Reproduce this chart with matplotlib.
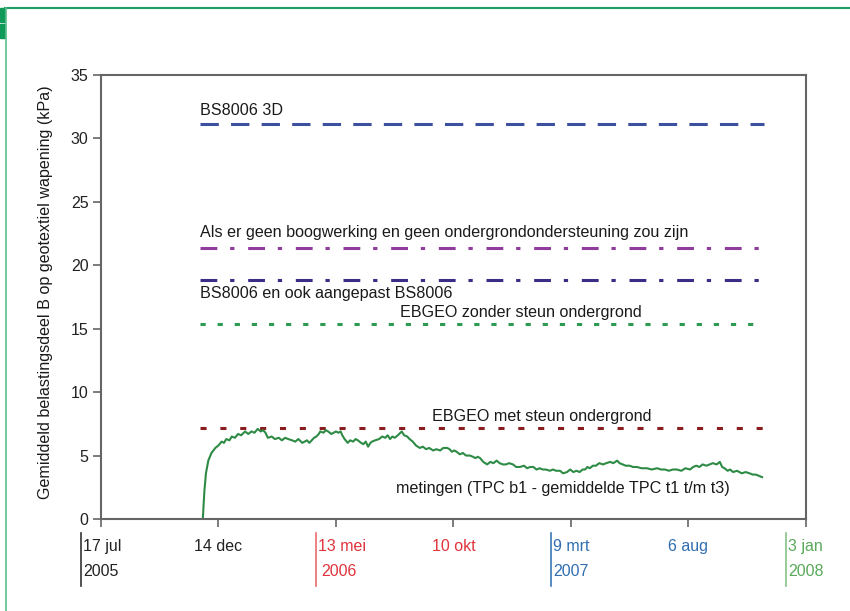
import matplotlib
matplotlib.use('Agg')
import matplotlib.pyplot as plt
from matplotlib.patches import Rectangle
from matplotlib.lines import Line2D

plt.rcParams['font.family'] = ['Liberation Sans', 'DejaVu Sans']

# days since 17 jul 2005
day = [130, 132, 134, 137, 141, 146, 150, 154, 157, 160, 164, 167, 171, 175, 179, 184,
       188, 192, 196, 200, 204, 207, 210, 213, 218, 222, 227, 231, 235, 239, 244, 248,
       252, 257, 260, 263, 266, 269, 272, 275, 278, 280, 284, 287, 290, 294, 297, 300,
       303, 306, 308, 311, 315, 318, 322, 325, 328, 332, 335, 338, 341, 344, 346, 350,
       355, 359, 363, 366, 369, 372, 375, 379, 384, 387, 391, 394, 398, 402, 407, 411,
       415, 419, 424, 428, 433, 437, 442, 445, 448, 451, 454, 458, 462, 466, 471, 475,
       478, 481, 484, 488, 493, 497, 501, 505, 509, 513, 517, 521, 526, 530, 535, 540,
       544, 548, 552, 556, 560, 564, 568, 573, 577, 581, 586, 590, 595, 599, 603, 607,
       611, 615, 618, 621, 624, 628, 632, 636, 641, 645, 650, 654, 659, 662, 666, 670,
       675, 679, 684, 690, 697, 703, 710, 715, 720, 725, 730, 735, 741, 746, 752, 756,
       760, 764, 768, 773, 777, 781, 786, 790, 793, 796, 800, 803, 807, 812, 818, 823,
       828, 832, 836, 840, 844]
kpa = [0.0, 2.2, 3.6, 4.6, 5.2, 5.6, 5.8, 6.1, 6.0, 6.3, 6.2, 6.5, 6.4, 6.7, 6.6, 6.9,
       6.7, 6.9, 6.8, 7.1, 6.9, 7.0, 6.8, 6.4, 6.5, 6.3, 6.4, 6.2, 6.4, 6.3, 6.2, 6.1,
       6.3, 6.0, 6.1, 6.2, 6.0, 6.2, 6.4, 6.5, 6.7, 6.9, 6.8, 7.0, 6.9, 6.7, 6.8, 6.9,
       6.8, 6.9, 6.6, 6.3, 6.0, 6.2, 6.1, 6.3, 6.2, 6.0, 5.9, 6.1, 5.7, 6.0, 6.1, 6.2,
       6.3, 6.5, 6.4, 6.6, 6.3, 6.5, 6.4, 6.6, 6.9, 6.6, 6.5, 6.3, 6.1, 5.8, 5.6, 5.7,
       5.5, 5.6, 5.4, 5.5, 5.4, 5.6, 5.6, 5.5, 5.3, 5.4, 5.3, 5.1, 5.2, 5.0, 5.0, 4.9,
       4.8, 4.9, 4.8, 4.5, 4.3, 4.5, 4.4, 4.6, 4.4, 4.3, 4.3, 4.4, 4.3, 4.1, 4.1, 4.2,
       4.0, 4.1, 4.1, 3.9, 4.0, 3.9, 3.9, 3.8, 3.9, 3.8, 3.8, 3.6, 3.7, 3.9, 3.7, 3.8,
       3.7, 3.9, 3.9, 4.1, 4.0, 4.2, 4.2, 4.4, 4.3, 4.4, 4.5, 4.4, 4.6, 4.4, 4.3, 4.2,
       4.2, 4.1, 4.1, 4.0, 4.0, 3.9, 4.0, 3.9, 3.9, 3.8, 3.9, 3.9, 3.8, 4.0, 3.9, 4.1,
       4.2, 4.1, 4.3, 4.2, 4.3, 4.4, 4.3, 4.5, 4.1, 4.0, 3.8, 3.9, 3.7, 3.8, 3.6, 3.7,
       3.6, 3.5, 3.5, 3.4, 3.3]

# reference levels (kPa)
ref_names = ['BS8006 3D',
             'Als er geen boogwerking en geen ondergrondondersteuning zou zijn',
             'BS8006 en ook aangepast BS8006',
             'EBGEO zonder steun ondergrond',
             'EBGEO met steun ondergrond']
ref_values = [31.1, 21.4, 18.8, 15.4, 7.2]
ref_start, ref_end = 126, 846

tick_days = [0, 150, 300, 450, 600, 750, 900]
tick_row1 = ['17 jul', '14 dec', '13 mei', '10 okt', '9 mrt', '6 aug', '3 jan']
tick_row2 = ['2005', '', '2006', '', '2007', '', '2008']

ref_styles = [
    dict(color='#3d4f9f', ls=(0, (6, 4))),
    dict(color='#8f3c9c', ls=(0, (5.5, 4.2, 1.4, 4.5))),
    dict(color='#3b2d86', ls=(0, (5.5, 4.2, 1.4, 4.5))),
    dict(color='#2e9a52', ls=(0, (1.7, 3.9))),
    dict(color='#8a1d1f', ls=(0, (2.0, 4.5))),
]
# label position (day, kPa, va)
ref_labels = [(126, 31.6, 'bottom'), (126, 22.0, 'bottom'), (126, 17.8, 'center'),
              (382, 16.3, 'center'), (422, 8.1, 'center')]

FS = 11.6

fig = plt.figure(figsize=(8.5, 6.11), dpi=100)
ax = fig.add_axes([0.1188, 0.1506, 0.8294, 0.7267])

for v, st, name, (lx, ly, va) in zip(ref_values, ref_styles, ref_names, ref_labels):
    ax.plot([ref_start, ref_end], [v, v], color=st['color'], linestyle=st['ls'], lw=2.2)
    ax.text(lx, ly, name, fontsize=FS, va=va, ha='left', color='#1a1a1a')

ax.plot(day, kpa, color='#2e8b45', lw=1.5)
ax.text(376, 2.4, 'metingen (TPC b1 - gemiddelde TPC t1 t/m t3)', fontsize=FS,
        va='center', ha='left', color='#1a1a1a')

ax.set_xlim(0, 900)
ax.set_ylim(0, 35)
ax.set_yticks(range(0, 36, 5))
ax.set_xticks(tick_days)
ax.set_xticklabels([])
for s in ax.spines.values():
    s.set_color('#666666')
    s.set_linewidth(1.5)
ax.tick_params(axis='both', colors='#666666', width=1.2, length=6, labelcolor='#222222',
               labelsize=11.5)
ax.tick_params(axis='y', pad=3)

ax.text(-0.079, 0.51, 'Gemiddeld belastingsdeel B op geotextiel wapening (kPa)',
        transform=ax.transAxes, rotation=90, fontsize=FS, ha='center', va='center',
        color='#1a1a1a')

# two-row date labels
tr = ax.get_xaxis_transform()
year_cols = {'2005': '#222222', '2006': '#e0333c', '2007': '#2f6db0', '2008': '#58a95a'}
sep_cols = {'2005': '#333333', '2006': '#e86b70', '2007': '#3a78b8', '2008': '#86c286'}
cols = ['#222222', '#222222', '#e0333c', '#e0333c', '#2f6db0', '#2f6db0', '#58a95a']
for i, (d, r1, r2) in enumerate(zip(tick_days, tick_row1, tick_row2)):
    if r2:
        x0 = d - 27
        ax.add_line(Line2D([x0 + 1, x0 + 1], [-0.032, -0.15], transform=tr, clip_on=False,
                           color=sep_cols[r2], lw=1.2))
        ax.text(x0 + 4, -0.061, r1, transform=tr, fontsize=11.5, ha='left', va='center',
                color=cols[i])
        ax.text(x0 + 4 + (4 if r2 == '2006' else 0), -0.119, r2, transform=tr, fontsize=11.5,
                ha='left', va='center', color=year_cols[r2])
    else:
        ax.text(d, -0.061, r1, transform=tr, fontsize=11.5, ha='center', va='center',
                color=cols[i])

# green page frame
fig.add_artist(Line2D([0.006, 1.0], [1 - 8 / 611, 1 - 8 / 611], transform=fig.transFigure,
                      color='#1f9e63', lw=1.5))
fig.add_artist(Line2D([5.5 / 850, 5.5 / 850], [0, 1 - 8 / 611], transform=fig.transFigure,
                      color='#5cbf8c', lw=1.2))
fig.add_artist(Rectangle((0, 1 - 22 / 611), 5 / 850, 14 / 611, transform=fig.transFigure,
                         color='#109a5a'))
fig.add_artist(Rectangle((0, 1 - 38 / 611), 5 / 850, 14 / 611, transform=fig.transFigure,
                         color='#109a5a'))

fig.savefig('out.png', dpi=100)
